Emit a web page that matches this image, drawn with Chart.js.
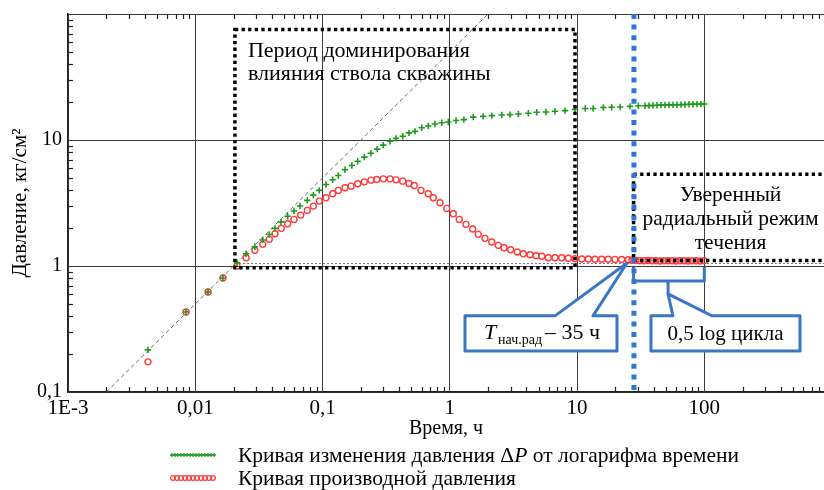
<!DOCTYPE html>
<html><head><meta charset="utf-8">
<script src="https://cdn.jsdelivr.net/npm/chart.js@4.4.1/dist/chart.umd.min.js"></script>
<style>
html,body{margin:0;padding:0;background:#fff;}
#wrap{position:relative;width:824px;height:490px;overflow:hidden;}
#c{position:absolute;left:0;top:0;}
.leg{position:absolute;left:170px;font-family:'Liberation Serif',serif;font-size:21.5px;color:#000;display:flex;align-items:center;white-space:nowrap;height:22px;}
.leg canvas{margin-right:22px;}
</style></head>
<body><div id="wrap"><canvas id="c" width="824" height="490"></canvas>
<div class="leg" style="top:444px"><canvas id="lg1" width="46" height="10"></canvas><span>Кривая изменения давления Δ<i>P</i> от логарифма времени</span></div>
<div class="leg" style="top:467px"><canvas id="lg2" width="46" height="10"></canvas><span>Кривая производной давления</span></div>
</div>
<script>
// ---- data ----
const greenTime = [0.00425,0.00846,0.0126,0.0165,0.0213,0.0251,0.0294,0.0339,0.0382,0.0423,0.0472,0.0532,0.0597,0.0665,0.0759,0.0847,0.0943,0.1065,0.120,0.133,0.150,0.170,0.189,0.213,0.240,0.269,0.300,0.339,0.378,0.427,0.478,0.533,0.602,0.678,0.765,0.864,0.974,1.12,1.29,1.53,1.83,2.14,2.56,2.97,3.46,4.14,4.82,5.70,6.71,8.04,9.64,11.6,13.4,16.1,18.7,21.8,26.1,30.3,34.2,36.8,39.5,42.5,45.7,49.1,52.8,56.8,61.0,65.6,70.5,75.8,81.5,87.6,94.2,100];
const greenPressure = [0.216,0.432,0.622,0.803,1.06,1.25,1.42,1.61,1.78,1.99,2.24,2.48,2.73,2.99,3.32,3.65,3.98,4.44,4.83,5.23,5.80,6.28,6.79,7.31,7.86,8.46,9.10,9.78,10.3,10.7,11.4,11.7,12.5,12.9,13.4,13.7,13.9,14.3,14.5,15.2,15.4,15.6,15.8,15.9,16.1,16.3,16.6,16.7,16.9,17.1,17.5,17.8,17.8,18.1,18.2,18.3,18.5,18.7,18.7,18.75,18.8,18.85,18.9,18.95,19.0,19.0,19.05,19.1,19.15,19.2,19.2,19.25,19.25,19.3];
const redTime = [0.00425,0.00846,0.0126,0.0165,0.0213,0.0251,0.0294,0.0339,0.0382,0.0423,0.0474,0.0532,0.0597,0.0674,0.0759,0.0847,0.0943,0.1065,0.1202,0.1331,0.1502,0.1674,0.189,0.213,0.2404,0.2665,0.3004,0.339,0.378,0.4266,0.478,0.526,0.594,0.678,0.742,0.838,0.946,1.066,1.188,1.341,1.514,1.675,1.891,2.135,2.406,2.668,3.011,3.394,3.783,4.271,4.759,5.277,5.946,6.71,7.575,8.54,9.64,10.88,12.26,13.84,15.62,17.60,19.87,22.43,25.28,27.0,29.1,31.2,33.6,36.1,38.8,41.7,44.9,48.2,51.9,55.8,59.9,64.4,69.3,74.5,80.0,86.0,92.5,99.5];
const redDerivative = [0.1735,0.432,0.622,0.803,1.0,1.164,1.331,1.486,1.627,1.803,1.990,2.164,2.344,2.536,2.763,2.988,3.274,3.477,3.741,3.981,4.173,4.304,4.49,4.656,4.803,4.864,4.918,4.918,4.829,4.716,4.522,4.359,3.98,3.741,3.477,3.174,2.866,2.597,2.344,2.140,1.965,1.783,1.658,1.550,1.459,1.396,1.346,1.291,1.252,1.229,1.207,1.194,1.164,1.164,1.164,1.151,1.143,1.136,1.136,1.13,1.13,1.13,1.128,1.125,1.12,1.11,1.105,1.10,1.10,1.105,1.10,1.10,1.095,1.10,1.10,1.10,1.095,1.10,1.10,1.095,1.10,1.10,1.095,1.10];
const xTickValues = [0.001,0.01,0.1,1,10,100];
const xTickLabels = ['1E-3','0,01','0,1','1','10','100'];
const yTickValues = [0.1,1,10,100];
const yTickLabels = ['0,1','1','10',''];
const seriesNames = ['Кривая изменения давления ΔP от логарифма времени','Кривая производной давления'];

// ---- annotation geometry in data coordinates ----
const unitSlopeLine = [[0.002,0.1],[2,100]];
const radialLevel = {y:1.06, x0:0.0205, x1:2000};
const wellboreBox = {x0:0.0205, x1:9.64, y0:0.97, y1:75.5};
const radialBox = {x0:27.8, x1:3000, y0:1.105, y1:5.36};
const startTime = 28;
const callout1 = [[1.317,0.402],[6.71,0.402],[24.7,1.056],[13.35,0.402],[20.6,0.402],[20.6,0.212],[1.317,0.212]];
const callout2 = [[38.1,0.402],[56.7,0.402],[51.9,0.600],[115,0.402],[565,0.402],[565,0.212],[38.1,0.212]];
const bracket = [[27.8,0.982],[27.8,0.76],[100,0.76],[100,0.982]];
const bracketNotch = [[51.9,0.76],[51.9,0.600]];

const SERIF = "'Liberation Serif', 'Times New Roman', serif";
const GREEN = '#1d9a1d', RED = '#ff3a3a', BLUE = '#2f78d2', CALL = '#3a76c4';

function pts(xs, ys){ return xs.map((t,i)=>({x:t, y:ys[i]})); }

// stretch the plot area to the right edge of the canvas (the reference is cropped there)
const stretch = {
  id:'stretch',
  afterLayout(chart){
    const x = chart.scales.x, R = chart.width, a = chart.chartArea;
    x.right = R; x.width = R - x.left;
    a.right = R; a.width = R - a.left;
    x.configure();
  }
};

const overlay = {
  id:'overlay',
  beforeDatasetsDraw(chart){
    const {ctx, chartArea:a, scales:{x,y}} = chart;
    const P = (v)=>[x.getPixelForValue(v[0]), y.getPixelForValue(v[1])];
    ctx.save();
    ctx.beginPath(); ctx.rect(a.left,a.top,a.right-a.left,a.bottom-a.top); ctx.clip();
    ctx.strokeStyle='#6a6a6a'; ctx.lineWidth=1; ctx.setLineDash([4,3]);
    let p0=P(unitSlopeLine[0]), p1=P(unitSlopeLine[1]);
    ctx.beginPath(); ctx.moveTo(p0[0],p0[1]); ctx.lineTo(p1[0],p1[1]); ctx.stroke();
    ctx.strokeStyle='#777'; ctx.setLineDash([2,2]);
    const ly = Math.round(y.getPixelForValue(radialLevel.y))+0.5;
    ctx.beginPath(); ctx.moveTo(x.getPixelForValue(radialLevel.x0),ly); ctx.lineTo(x.getPixelForValue(radialLevel.x1),ly); ctx.stroke();
    ctx.restore();
    // minor ticks (inward)
    ctx.save(); ctx.strokeStyle='#222'; ctx.lineWidth=1.2;
    for(let d=-3; d<=3; d++){
      for(let m=2; m<=9; m++){
        const v=m*Math.pow(10,d);
        if(v<x.min||v>x.max) continue;
        const px=Math.round(x.getPixelForValue(v))+0.5;
        ctx.beginPath(); ctx.moveTo(px,a.bottom); ctx.lineTo(px,a.bottom-5); ctx.moveTo(px,a.top); ctx.lineTo(px,a.top+5); ctx.stroke();
      }
    }
    for(let d=-1; d<=2; d++){
      for(let m=2; m<=9; m++){
        const v=m*Math.pow(10,d);
        if(v<y.min||v>y.max) continue;
        const py=Math.round(y.getPixelForValue(v))+0.5;
        ctx.beginPath(); ctx.moveTo(a.left,py); ctx.lineTo(a.left+5,py); ctx.stroke();
      }
    }
    ctx.restore();
  },
  afterDatasetsDraw(chart){
    const {ctx, chartArea:a, scales:{x,y}} = chart;
    const P = (v)=>[x.getPixelForValue(v[0]), y.getPixelForValue(v[1])];
    ctx.save();
    ctx.beginPath(); ctx.rect(a.left-3,a.top-3,a.right-a.left+6,a.bottom-a.top+6); ctx.clip();
    ctx.strokeStyle='#000'; ctx.lineWidth=3.5; ctx.setLineDash([3.3,3.3]);
    for(const b of [wellboreBox, radialBox]){
      const xa=x.getPixelForValue(b.x0), xb=x.getPixelForValue(b.x1), ya=y.getPixelForValue(b.y1), yb=y.getPixelForValue(b.y0);
      ctx.strokeRect(xa,ya,xb-xa,yb-ya);
    }
    ctx.strokeStyle=BLUE; ctx.lineWidth=5; ctx.setLineDash([5,5.6]);
    const bx=x.getPixelForValue(startTime);
    ctx.beginPath(); ctx.moveTo(bx,a.top); ctx.lineTo(bx,a.bottom); ctx.stroke();
    ctx.restore();

    ctx.save(); ctx.fillStyle='#000'; ctx.textBaseline='middle';
    ctx.font='22px '+SERIF; ctx.textAlign='left';
    const tx = x.getPixelForValue(wellboreBox.x0)+13;
    ctx.fillText('Период доминирования', tx, y.getPixelForValue(wellboreBox.y1)+22);
    ctx.fillText('влияния ствола скважины', tx, y.getPixelForValue(wellboreBox.y1)+45);
    ctx.textAlign='center'; ctx.font='21.5px '+SERIF;
    const cx = x.getPixelForValue(radialBox.x0)+97;
    const ty = y.getPixelForValue(radialBox.y1);
    ctx.fillText('Уверенный', cx, ty+21);
    ctx.fillText('радиальный режим', cx, ty+45);
    ctx.fillText('течения', cx, ty+69);
    ctx.restore();

    ctx.save(); ctx.strokeStyle=CALL; ctx.lineWidth=3; ctx.lineJoin='round';
    ctx.beginPath();
    bracket.forEach((v,i)=>{const p=P(v); i?ctx.lineTo(p[0],p[1]):ctx.moveTo(p[0],p[1]);});
    ctx.stroke();
    ctx.beginPath(); let q=P(bracketNotch[0]); ctx.moveTo(q[0],q[1]); q=P(bracketNotch[1]); ctx.lineTo(q[0],q[1]); ctx.stroke();
    for(const c of [callout1, callout2]){
      ctx.beginPath();
      c.forEach((v,i)=>{const p=P(v); i?ctx.lineTo(p[0],p[1]):ctx.moveTo(p[0],p[1]);});
      ctx.closePath(); ctx.fillStyle='#fff'; ctx.fill(); ctx.stroke();
    }
    ctx.fillStyle='#000'; ctx.textBaseline='alphabetic'; ctx.textAlign='left';
    const c1l = x.getPixelForValue(callout1[0][0]), c1b = y.getPixelForValue(callout1[5][1]);
    ctx.font='italic 22px '+SERIF; ctx.fillText('T', c1l+19, c1b-12);
    ctx.font='14px '+SERIF; ctx.fillText('нач.рад', c1l+33, c1b-7);
    ctx.font='22px '+SERIF; ctx.fillText('– 35 ч', c1l+80, c1b-12);
    const c2l = x.getPixelForValue(callout2[0][0]), c2r = x.getPixelForValue(callout2[4][0]);
    ctx.textAlign='center'; ctx.font='21px '+SERIF;
    ctx.fillText('0,5 log цикла', (c2l+c2r)/2, c1b-11);
    ctx.restore();
  }
};

new Chart(document.getElementById('c'), {
  type:'scatter',
  data:{datasets:[
    {label:seriesNames[0], data:pts(greenTime,greenPressure), pointStyle:'cross', radius:3.2, borderColor:GREEN, backgroundColor:GREEN, borderWidth:1.6, showLine:false},
    {label:seriesNames[1], data:pts(redTime,redDerivative), pointStyle:'circle', radius:3, borderColor:RED, backgroundColor:'rgba(255,255,255,0)', borderWidth:1.4, showLine:false}
  ]},
  options:{
    responsive:false, animation:false, devicePixelRatio:1,
    layout:{padding:{top:14,left:0,right:0,bottom:48}},
    plugins:{legend:{display:false}, tooltip:{enabled:false}},
    scales:{
      x:{type:'logarithmic', min:0.001, max:872,
        afterBuildTicks:s=>{s.ticks=xTickValues.map(v=>({value:v}));},
        afterFit:s=>{s.height=50; s.paddingLeft=0; s.paddingRight=0;},
        ticks:{callback:(v,i)=>xTickLabels[i], autoSkip:false, maxRotation:0, color:'#000', font:{family:SERIF,size:21}, padding:4},
        grid:{color:'#3c3c3c', lineWidth:1, drawTicks:false},
        border:{display:true, color:'#222', width:1.5},
        title:{display:true, text:'Время, ч', color:'#000', font:{family:SERIF,size:20}, padding:{top:0,bottom:1}}
      },
      y:{type:'logarithmic', min:0.1, max:100,
        afterBuildTicks:s=>{s.ticks=yTickValues.map(v=>({value:v}));},
        afterFit:s=>{s.width=68; s.paddingTop=0; s.paddingBottom=0;},
        ticks:{callback:(v,i)=>yTickLabels[i], autoSkip:false, color:'#000', font:{family:SERIF,size:20}, padding:6},
        grid:{color:'#3c3c3c', lineWidth:1, drawTicks:false},
        border:{display:true, color:'#222', width:1.5},
        title:{display:true, text:'Давление, кг/см²', color:'#000', font:{family:SERIF,size:21}, padding:{top:8,bottom:0}}
      }
    }
  },
  plugins:[stretch, overlay]
});

function sample(id, kind){
  const g=document.getElementById(id).getContext('2d');
  if(kind==='cross'){ g.strokeStyle=GREEN; g.lineWidth=1.3;
    for(let i=2;i<=44;i+=3){ g.beginPath(); g.moveTo(i-2,5); g.lineTo(i+2,5); g.moveTo(i,3); g.lineTo(i,7); g.stroke(); }
  } else { g.strokeStyle=RED; g.lineWidth=1.2;
    for(let i=3;i<=43;i+=4){ g.beginPath(); g.arc(i,5,2.4,0,Math.PI*2); g.stroke(); }
  }
}
sample('lg1','cross'); sample('lg2','circle');
</script>
</body></html>
